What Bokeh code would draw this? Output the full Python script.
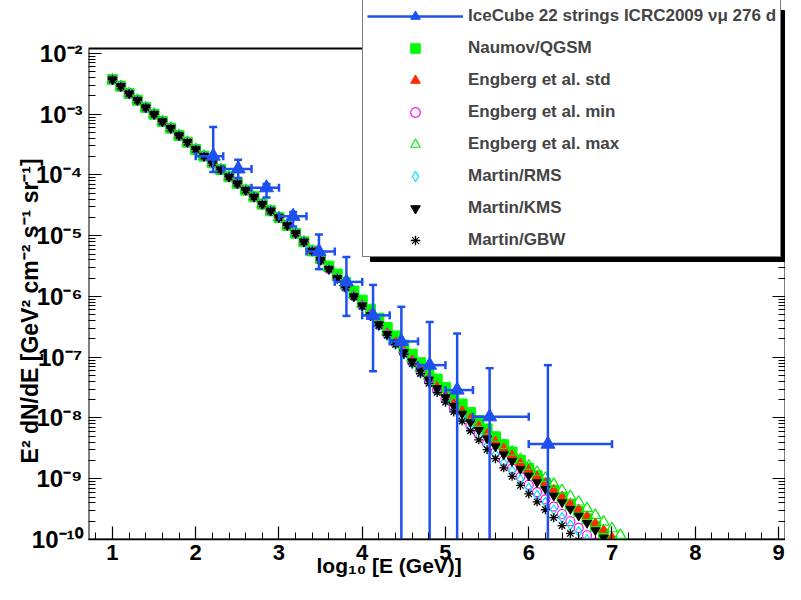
import math
from bokeh.plotting import figure
from bokeh.models import (ColumnDataSource, FixedTicker, CustomJSTickFormatter, LogAxis,
                          Legend, LegendItem, BoxAnnotation)
from bokeh.embed import file_html
from bokeh.resources import INLINE

# ---------------- data (log10 E in GeV, log10 of E^2 dN/dE) ----------------
log_e = [1.0, 1.1, 1.2, 1.3, 1.4, 1.5, 1.6, 1.7, 1.8, 1.9,
         2.0, 2.1, 2.2, 2.3, 2.4, 2.5, 2.6, 2.7, 2.8, 2.9,
         3.0, 3.1, 3.2, 3.3, 3.4, 3.5, 3.6, 3.7, 3.8, 3.9,
         4.0, 4.1, 4.2, 4.3, 4.4, 4.5, 4.6, 4.7, 4.8, 4.9,
         5.0, 5.1, 5.2, 5.3, 5.4, 5.5, 5.6, 5.7, 5.8, 5.9,
         6.0, 6.1, 6.2, 6.3, 6.4, 6.5, 6.6, 6.7, 6.8, 6.9,
         7.0, 7.1]

common_low = [-2.43, -2.54, -2.66, -2.77, -2.89, -3.00, -3.12, -3.23, -3.35, -3.46,
              -3.58, -3.69, -3.80, -3.91, -4.03, -4.14, -4.25, -4.36, -4.48, -4.59,
              -4.70, -4.83, -4.96, -5.10, -5.25]

naumov_qgsm = common_low + [
    -5.37, -5.50, -5.63, -5.77, -5.91, -6.06, -6.21, -6.36, -6.51, -6.65,
    -6.80, -6.95, -7.09, -7.23, -7.36, -7.50, -7.64, -7.77, -7.91, -8.04,
    -8.18, -8.31, -8.44, -8.56, -8.70, -8.83, -8.95, -9.07, -9.19, -9.31,
    -9.43, -9.54, -9.66, -9.78, -9.91, -10.03]

engberg_std = common_low + [
    -5.39, -5.54, -5.69, -5.83, -5.98, -6.14, -6.29, -6.45, -6.60, -6.75,
    -6.90, -7.05, -7.20, -7.35, -7.48, -7.62, -7.76, -7.88, -8.01, -8.13,
    -8.26, -8.38, -8.50, -8.61, -8.74, -8.85, -8.96, -9.07, -9.18, -9.29,
    -9.40, -9.50, -9.61, -9.73, -9.84, -9.96]

engberg_min = common_low + [
    -5.40, -5.55, -5.70, -5.85, -6.00, -6.15, -6.31, -6.47, -6.62, -6.77,
    -6.93, -7.08, -7.24, -7.39, -7.54, -7.69, -7.84, -7.98, -8.13, -8.27,
    -8.42, -8.56, -8.70, -8.83, -8.97, -9.10, -9.22, -9.34, -9.46, -9.58,
    -9.70, -9.81, -9.93, -10.05]

engberg_max = common_low + [
    -5.39, -5.53, -5.68, -5.82, -5.97, -6.12, -6.27, -6.43, -6.58, -6.72,
    -6.87, -7.02, -7.17, -7.31, -7.44, -7.58, -7.71, -7.83, -7.96, -8.08,
    -8.21, -8.33, -8.45, -8.56, -8.68, -8.79, -8.89, -8.99, -9.09, -9.19,
    -9.29, -9.38, -9.49, -9.60, -9.71, -9.82, -9.93]

martin_rms = common_low + [
    -5.40, -5.55, -5.70, -5.85, -6.00, -6.16, -6.32, -6.48, -6.64, -6.79,
    -6.94, -7.10, -7.25, -7.41, -7.55, -7.71, -7.86, -8.01, -8.16, -8.30,
    -8.45, -8.60, -8.74, -8.87, -9.01, -9.15, -9.27, -9.39, -9.51, -9.64,
    -9.76, -9.87, -10.00]

martin_kms = common_low + [
    -5.40, -5.55, -5.70, -5.85, -6.00, -6.15, -6.31, -6.46, -6.62, -6.76,
    -6.92, -7.07, -7.22, -7.37, -7.51, -7.66, -7.80, -7.93, -8.07, -8.20,
    -8.34, -8.47, -8.60, -8.71, -8.84, -8.95, -9.06, -9.17, -9.28, -9.39,
    -9.50, -9.61, -9.73, -9.85, -9.97]

martin_gbw = common_low + [
    -5.40, -5.55, -5.70, -5.85, -6.00, -6.16, -6.32, -6.48, -6.64, -6.79,
    -6.95, -7.11, -7.27, -7.43, -7.58, -7.74, -7.90, -8.05, -8.21, -8.36,
    -8.52, -8.67, -8.82, -8.96, -9.11, -9.25, -9.38, -9.51, -9.64, -9.77,
    -9.90, -10.02]

# IceCube 22 strings unfolded points
ic_x = [2.21, 2.51, 2.85, 3.17, 3.48, 3.81, 4.13, 4.47, 4.81, 5.14, 5.53, 6.23]
ic_y = [-3.69, -3.90, -4.21, -4.68, -5.26, -5.76, -6.31, -6.74, -7.13, -7.54, -7.98, -8.43]
ic_up = [-3.21, -3.75, -4.15, -4.61, -4.98, -5.35, -5.81, -6.17, -6.42, -6.61, -7.18, -7.13]
ic_lo = [-3.95, -4.05, -4.37, -4.85, -5.55, -6.32, -7.23, -11.0, -11.0, -11.0, -11.0, -11.0]
ic_xlo = [2.00, 2.33, 2.67, 3.00, 3.33, 3.67, 4.00, 4.33, 4.67, 5.00, 5.33, 6.00]
ic_xhi = [2.33, 2.67, 3.00, 3.33, 3.67, 4.00, 4.33, 4.67, 5.00, 5.33, 6.00, 7.00]

x_ticks = [1, 2, 3, 4, 5, 6, 7, 8, 9]
y_ticks = [1e-10, 1e-9, 1e-8, 1e-7, 1e-6, 1e-5, 1e-4, 1e-3, 1e-2]

# ---------------- figure ----------------
FONT = "Liberation Sans"
BLUE = "#1e50f0"
X_MIN, X_MAX = 0.712, 9.084
Y_LOW = 1e-10
Y_AXIS_TOP = 10 ** -1.918      # top edge of the drawn frame
Y_CANVAS_TOP = 10 ** -1.128    # room above the frame for the legend

p = figure(width=785, height=584, x_range=(X_MIN, X_MAX), y_range=(Y_LOW, Y_CANVAS_TOP),
           y_axis_type="log", output_backend="svg", toolbar_location=None,
           min_border_left=88, min_border_right=0, min_border_top=0, min_border_bottom=45)
p.grid.visible = False
p.outline_line_color = None
p.background_fill_color = "white"

x_minor = [round(0.2 * k, 1) for k in range(4, 46)]
y_minor = [m * t for t in y_ticks[:-1] for m in range(2, 10)]

sup_js = """
const s = {"-":"\u207b","0":"\u2070","1":"\u00b9","2":"\u00b2","3":"\u00b3","4":"\u2074",
           "5":"\u2075","6":"\u2076","7":"\u2077","8":"\u2078","9":"\u2079"};
const e = Math.round(Math.log10(tick));
return "10" + String(e).split("").map(c => s[c]).join("");
"""

for ax in p.xaxis:
    ax.ticker = FixedTicker(ticks=x_ticks, minor_ticks=x_minor)
for ax in p.yaxis:
    ax.ticker = FixedTicker(ticks=y_ticks, minor_ticks=y_minor)
    ax.formatter = CustomJSTickFormatter(code=sup_js)
    ax.axis_line_color = None

for ax in p.xaxis + p.yaxis:
    ax.major_tick_in = 13
    ax.major_tick_out = 0
    ax.minor_tick_in = 7
    ax.minor_tick_out = 0
    ax.axis_line_width = 1.5
    ax.major_tick_line_width = 1.2
    ax.major_label_text_font = FONT
    ax.major_label_text_font_style = "bold"
    ax.major_label_text_color = "black"
    ax.axis_label_text_font = FONT
    ax.axis_label_text_font_style = "bold"
    ax.axis_label_text_color = "black"

# trailing spaces move the centred titles to where the reference has them
p.xaxis.major_label_text_font_size = "22px"
p.xaxis.axis_label = "log\u2081\u2080 [E (GeV)]\u2003\u2003\u2003\u2003  "
p.xaxis.axis_label_text_font_size = "21px"
p.xaxis.major_label_standoff = 5
p.xaxis.axis_label_standoff = -9

p.yaxis.major_label_text_font_size = "24px"
p.yaxis.axis_label = ("E\u00b2 dN/dE [GeV\u00b2 cm\u207b\u00b2 s\u207b\u00b9 sr\u207b\u00b9]"
                      "\u2003\u2003\u2003  ")
p.yaxis.axis_label_text_font_size = "23px"
p.yaxis.major_label_standoff = 6
p.yaxis.axis_label_standoff = -14

empty = CustomJSTickFormatter(code="return ''")
right_ax = LogAxis(ticker=FixedTicker(ticks=y_ticks, minor_ticks=y_minor), formatter=empty,
                   major_tick_in=13, major_tick_out=0, minor_tick_in=7, minor_tick_out=0,
                   major_label_text_font_size="0px", major_label_standoff=0,
                   axis_line_color=None)
p.add_layout(right_ax, "right")

# frame box (stops at the top of the axis range, the legend sits above it)
frame_box = BoxAnnotation(left=X_MIN, right=X_MAX, bottom=Y_LOW, top=Y_AXIS_TOP,
                          fill_alpha=0, line_color="black", line_alpha=1.0, line_width=2,
                          level="underlay")
p.add_layout(frame_box)


def src(vals):
    return ColumnDataSource(dict(x=log_e[:len(vals)], y=[10 ** v for v in vals]))


r_nau = p.scatter("x", "y", source=src(naumov_qgsm), marker="square", size=10,
                  fill_color="#00ff00", line_color="#00ff00")
r_std = p.scatter("x", "y", source=src(engberg_std), marker="triangle", size=9,
                  fill_color="#ff2a00", line_color="#ff2a00")
r_min = p.scatter("x", "y", source=src(engberg_min), marker="circle", size=9,
                  fill_color=None, line_color="#ff00ff", line_width=1.2)
r_max = p.scatter("x", "y", source=src(engberg_max), marker="triangle", size=11,
                  fill_color=None, line_color="#00ee00", line_width=1.2)
r_rms = p.scatter("x", "y", source=src(martin_rms), marker="diamond", size=10,
                  fill_color=None, line_color="#00e5ff", line_width=1.2)
r_kms = p.scatter("x", "y", source=src(martin_kms), marker="inverted_triangle", size=9,
                  fill_color="black", line_color="black")
r_gbw = p.scatter("x", "y", source=src(martin_gbw), marker="asterisk", size=9,
                  line_color="black", line_width=1.3)

ic_src = ColumnDataSource(dict(
    x=ic_x, y=[10 ** v for v in ic_y], up=[10 ** v for v in ic_up], lo=[10 ** v for v in ic_lo],
    xlo=ic_xlo, xhi=ic_xhi))
p.segment(x0="x", y0="lo", x1="x", y1="up", source=ic_src, line_color=BLUE, line_width=2.5)
p.segment(x0="xlo", y0="y", x1="xhi", y1="y", source=ic_src, line_color=BLUE, line_width=2.5)
p.scatter("x", "up", source=ic_src, marker="dash", size=8, line_color=BLUE, line_width=2.5)
p.scatter("x", "lo", source=ic_src, marker="dash", size=8, line_color=BLUE, line_width=2.5)
p.scatter("xlo", "y", source=ic_src, marker="dash", size=8, angle=math.pi / 2,
          line_color=BLUE, line_width=2.5)
p.scatter("xhi", "y", source=ic_src, marker="dash", size=8, angle=math.pi / 2,
          line_color=BLUE, line_width=2.5)
r_ic = p.scatter("x", "y", source=ic_src, marker="triangle", size=14,
                 fill_color=BLUE, line_color=BLUE)
# line style sample for the legend only (nothing to draw in the plot)
r_ic_line = p.line(x=[float("nan")], y=[float("nan")], line_color=BLUE, line_width=2.5)

# legend shadow + legend (positions in screen pixels relative to the frame)
shadow = BoxAnnotation(left=282, right=696, top=529, bottom=278,
                       left_units="screen", right_units="screen", top_units="screen",
                       bottom_units="screen", fill_color="black", fill_alpha=1.0,
                       line_color="black", line_alpha=1.0)
p.add_layout(shadow)

legend = Legend(items=[
    LegendItem(label="IceCube 22 strings ICRC2009 \u03bd\u03bc 276 d", renderers=[r_ic_line, r_ic]),
    LegendItem(label="Naumov/QGSM", renderers=[r_nau]),
    LegendItem(label="Engberg et al. std", renderers=[r_std]),
    LegendItem(label="Engberg et al. min", renderers=[r_min]),
    LegendItem(label="Engberg et al. max", renderers=[r_max]),
    LegendItem(label="Martin/RMS", renderers=[r_rms]),
    LegendItem(label="Martin/KMS", renderers=[r_kms]),
    LegendItem(label="Martin/GBW", renderers=[r_gbw]),
], location=(274, 282))
legend.padding = 4
legend.spacing = 8
legend.glyph_width = 96
legend.glyph_height = 24
legend.label_height = 24
legend.label_standoff = 5
legend.label_text_font = FONT
legend.label_text_font_style = "bold"
legend.label_text_font_size = "17px"
legend.border_line_color = "black"
legend.border_line_width = 1
legend.background_fill_alpha = 1.0
p.add_layout(legend)

open("out.html", "w").write(file_html(p, INLINE))
